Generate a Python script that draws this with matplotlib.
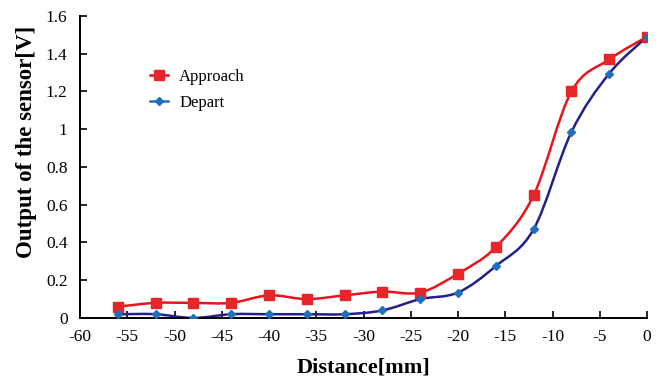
import matplotlib
matplotlib.use('Agg')
import matplotlib.pyplot as plt
from matplotlib.path import Path
from matplotlib.patches import PathPatch
import numpy as np

plt.rcParams['font.family'] = ['Liberation Serif', 'DejaVu Serif']

distance = [-56, -52, -48, -44, -40, -36, -32, -28, -24, -20, -16, -12, -8, -4, 0]
approach = [0.06, 0.08, 0.08, 0.08, 0.12, 0.10, 0.12, 0.14, 0.135, 0.235, 0.375, 0.65, 1.20, 1.37, 1.49]
depart = [0.02, 0.02, 0.0, 0.02, 0.02, 0.02, 0.02, 0.04, 0.10, 0.135, 0.275, 0.47, 0.985, 1.295, 1.49]

xticks = [-60, -55, -50, -45, -40, -35, -30, -25, -20, -15, -10, -5, 0]
yticks = [0, 0.2, 0.4, 0.6, 0.8, 1.0, 1.2, 1.4, 1.6]
yticklabels = ['0', '0.2', '0.4', '0.6', '0.8', '1', '1.2', '1.4', '1.6']


def smooth_path(x, y):
    # excel-like smoothed line: cubic bezier segments between the points
    p = np.column_stack([x, y]).astype(float)
    n = len(p)
    verts = [p[0]]
    codes = [Path.MOVETO]
    for i in range(n - 1):
        p0 = p[i - 1] if i > 0 else p[i]
        p3 = p[i + 2] if i + 2 < n else p[i + 1]
        c1 = p[i] + (p[i + 1] - p0) / 6.0
        c2 = p[i + 1] - (p3 - p[i]) / 6.0
        verts += [c1, c2, p[i + 1]]
        codes += [Path.CURVE4] * 3
    return Path(verts, codes)


fig = plt.figure(figsize=(6.59, 3.8), dpi=100)
ax = fig.add_axes([0.1214, 0.1632, 0.8604, 0.7947])

red = '#e8141b'
navy = '#22208a'
blue = '#1f6fba'

ax.add_patch(PathPatch(smooth_path(distance, approach), facecolor='none', edgecolor=red, lw=1.8, zorder=2))
ax.add_patch(PathPatch(smooth_path(distance, depart), facecolor='none', edgecolor=navy, lw=1.8, zorder=2))
ax.plot(distance, approach, ls='none', marker='s', ms=6.5, color='#e8262a', zorder=3)
ax.plot(distance, depart, ls='none', marker='D', ms=4.5, color=blue, zorder=3)

# legend proxies
ax.plot([], [], color=red, lw=1.8, marker='s', ms=6.5, mfc='#e8262a', mec='#e8262a', label='Approach')
ax.plot([], [], color=blue, lw=1.8, marker='D', ms=4.5, mfc=blue, mec=blue, label='Depart')
ax.legend(loc='upper left', bbox_to_anchor=(0.097, 0.875), frameon=False, fontsize=12,
          handlelength=1.05, handletextpad=0.7, labelspacing=0.6)

ax.set_xlim(-60, 0)
ax.set_ylim(0, 1.6)
ax.set_xticks(xticks)
ax.set_xticklabels([str(t) for t in xticks])
ax.set_yticks(yticks)
ax.set_yticklabels(yticklabels)
ax.tick_params(direction='in', length=5, width=1.2, labelsize=12.5, colors='black')
ax.tick_params(axis='x', pad=8)
ax.tick_params(axis='y', pad=9)

for s in ['top', 'right']:
    ax.spines[s].set_visible(False)
for s in ['left', 'bottom']:
    ax.spines[s].set_linewidth(1.4)

ax.set_xlabel('Distance[mm]', fontsize=16, fontweight='bold', labelpad=9)
ax.set_ylabel('Output of the sensor[V]', fontsize=16.5, fontweight='bold')
ax.yaxis.set_label_coords(-0.075, 0.583)

fig.savefig('out.png', dpi=100)
